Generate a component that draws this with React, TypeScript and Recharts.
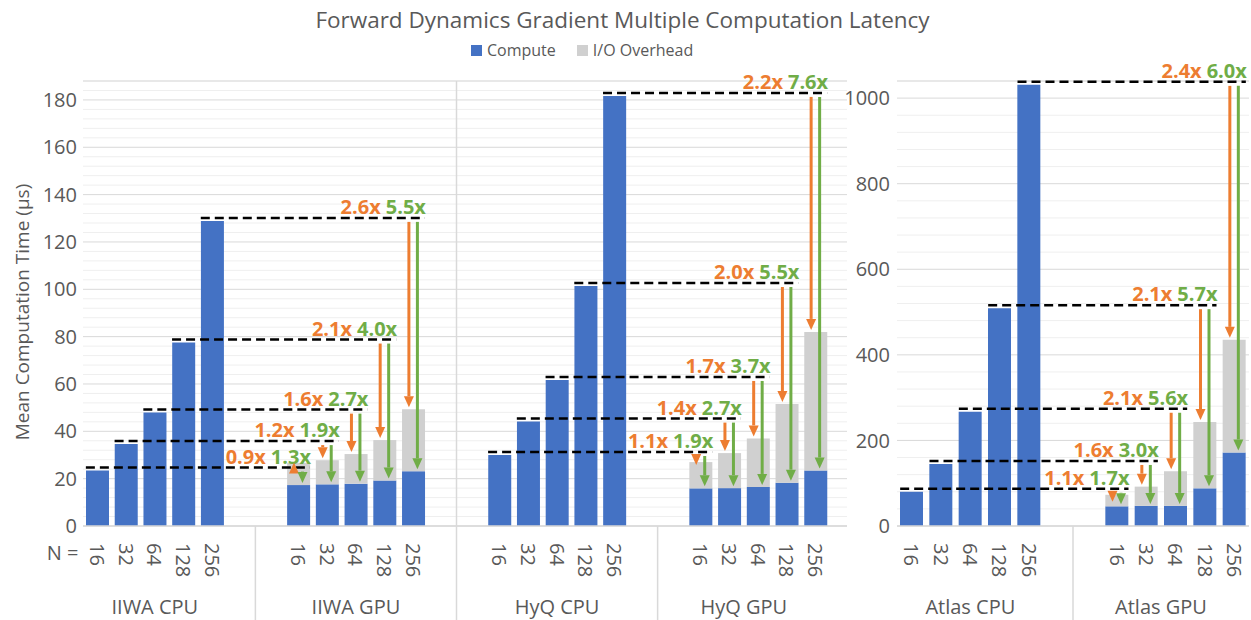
import React from "react";
import { ComposedChart, Bar, XAxis, YAxis, CartesianGrid, ReferenceLine } from "recharts";

const sizes = ["16", "32", "64", "128", "256"];

// IIWA (µs)
const iiwaCpu = [23.4, 34.6, 47.9, 77.5, 128.9];
const iiwaGpuCompute = [17.3, 17.6, 17.9, 19.2, 23.1];
const iiwaGpuTotal = [26.7, 27.8, 30.4, 36.3, 49.3];
const iiwaVsTotal = ["0.9x", "1.2x", "1.6x", "2.1x", "2.6x"];
const iiwaVsCompute = ["1.3x", "1.9x", "2.7x", "4.0x", "5.5x"];

// HyQ (µs)
const hyqCpu = [30.0, 44.1, 61.7, 101.4, 181.7];
const hyqGpuCompute = [15.9, 16.0, 16.5, 18.3, 23.5];
const hyqGpuTotal = [27.0, 30.8, 37.0, 51.5, 82.0];
const hyqVsTotal = ["1.1x", "1.4x", "1.7x", "2.0x", "2.2x"];
const hyqVsCompute = ["1.9x", "2.7x", "3.7x", "5.5x", "7.6x"];

// Atlas (µs)
const atlasCpu = [80, 145, 267, 509, 1031];
const atlasGpuCompute = [46, 47, 47, 88, 172];
const atlasGpuTotal = [73, 92, 128, 243, 435];
const atlasVsTotal = ["1.1x", "1.6x", "2.1x", "2.1x", "2.4x"];
const atlasVsCompute = ["1.7x", "3.0x", "5.6x", "5.7x", "6.0x"];

const leftTicks = [0, 20, 40, 60, 80, 100, 120, 140, 160, 180];
const atlasTicks = [0, 200, 400, 600, 800, 1000];

const BLUE = "#4472C4";
const IO_GRAY = "#d0d0d0";
const ORANGE = "#ED7D31";
const GREEN = "#70AD47";
const GRID = "#d9d9d9";
const MINOR = "#efefef";
const TEXT = "#595959";
const FONT = "'Open Sans', 'Noto Sans', sans-serif";

const CHART_H = 620;
const PLOT_TOP = 81;
const PLOT_BOTTOM = 526;
const X_AXIS_H = CHART_H - PLOT_BOTTOM;
const BAR = 23;

type Row = { key: string; n: string; compute: number | null; io: number | null };

function block(robot: string, cpu: number[], gpuCompute: number[], gpuTotal: number[], lead: number, trail: number): Row[] {
  const gap = (id: string): Row => ({ key: `${robot}-${id}`, n: "", compute: null, io: null });
  const rows: Row[] = [];
  for (let i = 0; i < lead; i++) rows.push(gap(`lead${i}`));
  sizes.forEach((n, i) => rows.push({ key: `${robot}-CPU-${n}`, n, compute: cpu[i], io: null }));
  rows.push(gap("mid0"), gap("mid1"));
  sizes.forEach((n, i) =>
    rows.push({ key: `${robot}-GPU-${n}`, n, compute: gpuCompute[i], io: gpuTotal[i] - gpuCompute[i] })
  );
  for (let i = 0; i < trail; i++) rows.push(gap(`trail${i}`));
  return rows;
}

const leftRows = [
  ...block("IIWA", iiwaCpu, iiwaGpuCompute, iiwaGpuTotal, 0, 1),
  ...block("HyQ", hyqCpu, hyqGpuCompute, hyqGpuTotal, 1, 0),
];
const atlasRows = block("Atlas", atlasCpu, atlasGpuCompute, atlasGpuTotal, 0, 0);

// chart geometry
const A_W = 847;
const A_Y_W = 83;
const A_PAD_R = 17;
const A_SLOT = (A_W - A_Y_W - A_PAD_R) / leftRows.length;
const B_LEFT = 830;
const B_W = 1251 - B_LEFT;
const B_Y_W = 67;
const B_R = 2;
const B_SLOT = (B_W - B_Y_W - B_R) / atlasRows.length;

function minorPoints(max: number, step: number, major: number) {
  const pts: number[] = [];
  for (let v = step; v <= max; v += step) {
    if (v % major !== 0) pts.push(PLOT_TOP + (PLOT_BOTTOM - PLOT_TOP) * (1 - v / max));
  }
  return pts;
}

type Group = { at: string; shift: number; text: string };
type TickCfg = { slot: number; shortSeps: string[]; fullSeps: string[]; groups: Group[]; nLabel: boolean };

function makeTick(cfg: TickCfg, rows: Row[]) {
  const byKey = new Map(rows.map((r) => [r.key, r]));
  return (props: any) => {
    const { x, payload, index } = props;
    const key = String(payload.value);
    const row = byKey.get(key);
    const edge = x + cfg.slot / 2;
    const group = cfg.groups.find((g) => g.at === key);
    return (
      <g>
        {row && row.n && (
          <text
            transform={`translate(${x},543) rotate(90)`}
            textAnchor="start"
            dominantBaseline="central"
            fontSize={20}
            fill={TEXT}
          >
            {row.n}
          </text>
        )}
        {cfg.shortSeps.includes(key) && (
          <line x1={edge} x2={edge} y1={PLOT_BOTTOM} y2={CHART_H} stroke={GRID} strokeWidth={1.5} />
        )}
        {cfg.fullSeps.includes(key) && (
          <line x1={edge} x2={edge} y1={PLOT_TOP} y2={CHART_H} stroke={GRID} strokeWidth={1.5} />
        )}
        {group && (
          <text x={x + group.shift * cfg.slot} y={614} textAnchor="middle" fontSize={20} fill={TEXT}>
            {group.text}
          </text>
        )}
        {index === 0 && cfg.nLabel && (
          <text x={x - 19} y={560} textAnchor="end" fontSize={20} fill={TEXT}>
            N =
          </text>
        )}
      </g>
    );
  };
}

const dashShape = (vsTotal: string, vsCompute: string) => (p: any) => {
  const y = p.y1 - 3;
  return (
    <g>
      <line x1={p.x1 - BAR / 2} x2={p.x2 + BAR / 2} y1={y} y2={y} stroke="#000" strokeWidth={2.5} strokeDasharray="9 5" />
      <text x={p.x2 + BAR / 2 + 1} y={y - 4} textAnchor="end" fontSize={20} fontWeight={700}>
        <tspan fill={ORANGE}>{vsTotal}</tspan>
        <tspan fill={GREEN} dx={5}>
          {vsCompute}
        </tspan>
      </text>
    </g>
  );
};

const arrowShape = (color: string, dx: number) => (p: any) => {
  const x = p.x1 + dx;
  const start = p.y1 + 1;
  const end = p.y2;
  const d = end >= start ? 1 : -1;
  const len = Math.max(Math.abs(end - start) - 2, 9);
  const tip = start + d * len;
  const head = 11;
  const base = tip - d * head;
  return (
    <g>
      {d * (base - start) > 0 && <line x1={x} x2={x} y1={start} y2={base} stroke={color} strokeWidth={3} />}
      <polygon points={`${x - 5},${base} ${x + 5},${base} ${x},${tip}`} fill={color} />
    </g>
  );
};

function annotations(robot: string, cpu: number[], gpuCompute: number[], gpuTotal: number[], vsT: string[], vsC: string[]) {
  return sizes.flatMap((n, i) => {
    const c = `${robot}-CPU-${n}`;
    const g = `${robot}-GPU-${n}`;
    return [
      <ReferenceLine
        key={`dash-${c}`}
        segment={[{ x: c, y: cpu[i] }, { x: g, y: cpu[i] }]}
        ifOverflow="visible"
        shape={dashShape(vsT[i], vsC[i])}
      />,
      <ReferenceLine
        key={`or-${g}`}
        segment={[{ x: g, y: cpu[i] }, { x: g, y: gpuTotal[i] }]}
        ifOverflow="visible"
        shape={arrowShape(ORANGE, -4.5)}
      />,
      <ReferenceLine
        key={`gr-${g}`}
        segment={[{ x: g, y: cpu[i] }, { x: g, y: gpuCompute[i] }]}
        ifOverflow="visible"
        shape={arrowShape(GREEN, 4)}
      />,
    ];
  });
}

const leftTick = makeTick(
  {
    slot: A_SLOT,
    shortSeps: ["IIWA-mid0", "HyQ-mid0"],
    fullSeps: ["IIWA-trail0"],
    groups: [
      { at: "IIWA-CPU-64", shift: 0, text: "IIWA CPU" },
      { at: "IIWA-GPU-64", shift: 0, text: "IIWA GPU" },
      { at: "HyQ-CPU-64", shift: 0, text: "HyQ CPU" },
      { at: "HyQ-GPU-64", shift: -0.5, text: "HyQ GPU" },
    ],
    nLabel: true,
  },
  leftRows
);

const atlasTick = makeTick(
  {
    slot: B_SLOT,
    shortSeps: ["Atlas-mid0"],
    fullSeps: [],
    groups: [
      { at: "Atlas-CPU-64", shift: 0, text: "Atlas CPU" },
      { at: "Atlas-GPU-64", shift: -0.5, text: "Atlas GPU" },
    ],
    nLabel: false,
  },
  atlasRows
);

const yLabel = () => (
  <text transform="translate(22,312) rotate(-90)" textAnchor="middle" dominantBaseline="central" fontSize={19} fill={TEXT}>
    Mean Computation Time (µs)
  </text>
);

export default function App() {
  return (
    <div
      style={{
        position: "absolute",
        left: 0,
        top: 0,
        width: 1251,
        height: 620,
        background: "#fff",
        fontFamily: FONT,
        overflow: "hidden",
      }}
    >
      <div style={{ position: "absolute", left: 0, top: 0 }}>
        <ComposedChart width={A_W} height={CHART_H} data={leftRows} margin={{ top: PLOT_TOP, right: 0, bottom: 0, left: 0 }}>
          <CartesianGrid vertical={false} horizontalPoints={minorPoints(188, 4, 20)} stroke={MINOR} />
          <CartesianGrid vertical={false} stroke={GRID} />
          <XAxis
            dataKey="key"
            interval={0}
            height={X_AXIS_H}
            padding={{ left: 0, right: A_PAD_R }}
            tickLine={false}
            axisLine={{ stroke: GRID, strokeWidth: 1.5 }}
            tick={leftTick}
          />
          <YAxis
            domain={[0, 188]}
            ticks={leftTicks}
            width={A_Y_W}
            tickLine={false}
            axisLine={false}
            tickSize={0}
            tickMargin={6}
            tick={{ fontSize: 20, fill: TEXT }}
            label={yLabel}
          />
          <Bar dataKey="compute" name="Compute" stackId="s" fill={BLUE} barSize={BAR} isAnimationActive={false} />
          <Bar dataKey="io" name="I/O Overhead" stackId="s" fill={IO_GRAY} barSize={BAR} isAnimationActive={false} />
          {annotations("IIWA", iiwaCpu, iiwaGpuCompute, iiwaGpuTotal, iiwaVsTotal, iiwaVsCompute)}
          {annotations("HyQ", hyqCpu, hyqGpuCompute, hyqGpuTotal, hyqVsTotal, hyqVsCompute)}
        </ComposedChart>
      </div>

      <div style={{ position: "absolute", left: B_LEFT, top: 0 }}>
        <ComposedChart width={B_W} height={CHART_H} data={atlasRows} margin={{ top: PLOT_TOP, right: B_R, bottom: 0, left: 0 }}>
          <CartesianGrid vertical={false} horizontalPoints={minorPoints(1040, 40, 200)} stroke={MINOR} />
          <CartesianGrid vertical={false} stroke={GRID} />
          <XAxis
            dataKey="key"
            interval={0}
            height={X_AXIS_H}
            tickLine={false}
            axisLine={{ stroke: GRID, strokeWidth: 1.5 }}
            tick={atlasTick}
          />
          <YAxis
            domain={[0, 1040]}
            ticks={atlasTicks}
            width={B_Y_W}
            tickLine={false}
            axisLine={false}
            tickSize={0}
            tickMargin={7}
            tick={{ fontSize: 20, fill: TEXT }}
          />
          <Bar dataKey="compute" name="Compute" stackId="s" fill={BLUE} barSize={BAR} isAnimationActive={false} />
          <Bar dataKey="io" name="I/O Overhead" stackId="s" fill={IO_GRAY} barSize={BAR} isAnimationActive={false} />
          {annotations("Atlas", atlasCpu, atlasGpuCompute, atlasGpuTotal, atlasVsTotal, atlasVsCompute)}
        </ComposedChart>
      </div>

      <div
        style={{
          position: "absolute",
          left: 0,
          top: 5,
          width: 1245,
          textAlign: "center",
          fontSize: 22.5,
          lineHeight: "30px",
          color: TEXT,
        }}
      >
        Forward Dynamics Gradient Multiple Computation Latency
      </div>
      <div
        style={{
          position: "absolute",
          left: 471,
          top: 38,
          display: "flex",
          alignItems: "center",
          fontSize: 16,
          lineHeight: "24px",
          color: TEXT,
        }}
      >
        <span style={{ width: 11, height: 11, background: BLUE, marginRight: 5 }} />
        <span style={{ marginRight: 21 }}>Compute</span>
        <span style={{ width: 11, height: 11, background: IO_GRAY, marginRight: 5 }} />
        <span>I/O Overhead</span>
      </div>
    </div>
  );
}
